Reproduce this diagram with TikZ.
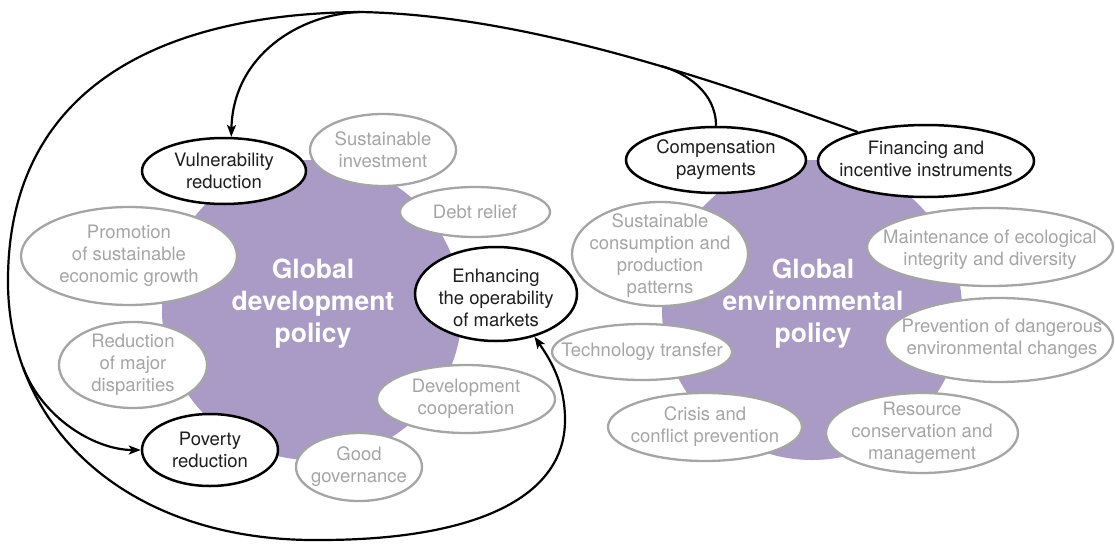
\documentclass[tikz,border=0pt]{standalone}
\usepackage{fontspec}
\setmainfont{TeX Gyre Heros}
\usetikzlibrary{shapes.geometric,arrows.meta}
\definecolor{purp}{RGB}{169,155,198}
\definecolor{ggray}{RGB}{165,165,165}
\definecolor{tblack}{RGB}{30,30,30}
\tikzset{
  gel/.style={ellipse, draw=ggray, line width=2.3pt, fill=white, inner sep=0pt},
  bel/.style={ellipse, draw=black, line width=2.5pt, fill=white, inner sep=0pt},
  gtxt/.style={text=ggray, align=center, inner sep=0pt, font=\fontsize{18.5}{22}\selectfont},
  btxt/.style={text=tblack, align=center, inner sep=0pt, font=\fontsize{18.5}{22}\selectfont},
  ttl/.style={text=white, align=center, inner sep=0pt, font=\fontsize{26.5}{32}\selectfont\bfseries},
  pcirc/.style={circle, fill=purp, minimum size=300pt, inner sep=0pt},
  conn/.style={draw=black, line width=2.2pt},
  arr/.style={-{Stealth[length=12pt,width=9pt,inset=3pt]}},
}
\begin{document}
\begin{tikzpicture}[x=1pt,y=-1pt]
\useasboundingbox (0,0) rectangle (1115,543);
% purple circles
\node[pcirc] (gdc) at (312,310) {};
\node[pcirc] (gec) at (812,310) {};
\node[ttl] (gdt) at (313,304) {Global\\development\\policy};
\node[ttl] (get) at (813,304) {Global\\environmental\\policy};
% development ellipses
\node[bel, minimum width=164pt, minimum height=66pt, label={[btxt]center:{Vulnerability\\reduction}}] (vul) at (224,171) {};
\node[gel, minimum width=146pt, minimum height=72pt, label={[gtxt]center:{Sustainable\\investment}}] (si) at (383,150) {};
\node[gel, minimum width=150pt, minimum height=50pt, label={[gtxt]center:{Debt relief}}] (dr) at (475,212) {};
\node[gel, minimum width=216pt, minimum height=98pt, label={[gtxt]center:{Promotion\\of sustainable\\economic growth}}] (pr) at (129,256) {};
\node[bel, minimum width=162pt, minimum height=94pt, label={[btxt,yshift=-4pt]center:{Enhancing\\the operability\\of markets}}] (enh) at (496,294) {};
\node[gel, minimum width=148pt, minimum height=86pt, label={[gtxt]center:{Reduction\\of major\\disparities}}] (rd) at (133,365) {};
\node[gel, minimum width=178pt, minimum height=68pt, label={[gtxt]center:{Development\\cooperation}}] (dc) at (466,399) {};
\node[bel, minimum width=136pt, minimum height=72pt, label={[btxt]center:{Poverty\\reduction}}] (pov) at (210,450) {};
\node[gel, minimum width=126pt, minimum height=68pt, label={[gtxt]center:{Good\\governance}}] (gg) at (359,467) {};
% environment ellipses
\node[bel, minimum width=180pt, minimum height=66pt, label={[btxt]center:{Compensation\\payments}}] (comp) at (716,160) {};
\node[bel, minimum width=216pt, minimum height=72pt, label={[btxt,yshift=2pt]center:{Financing and\\incentive instruments}}] (fin) at (926,161) {};
\node[gel, minimum width=176pt, minimum height=104pt, label={[gtxt,yshift=-2pt]center:{Sustainable\\consumption and\\production\\patterns}}] (sc) at (660,254) {};
\node[gel, minimum width=246pt, minimum height=78pt, label={[gtxt,yshift=-3pt]center:{Maintenance of ecological\\integrity and diversity}}] (me) at (990,247) {};
\node[gel, minimum width=180pt, minimum height=56pt, label={[gtxt]center:{Technology transfer}}] (tt) at (642,352) {};
\node[gel, minimum width=228pt, minimum height=84pt, label={[gtxt,xshift=3pt,yshift=1pt]center:{Prevention of dangerous\\environmental changes}}] (pd) at (999,340) {};
\node[gel, minimum width=194pt, minimum height=68pt, label={[gtxt]center:{Crisis and\\conflict prevention}}] (cc) at (705,427) {};
\node[gel, minimum width=192pt, minimum height=80pt, label={[gtxt]center:{Resource\\conservation and\\management}}] (rc) at (922,433) {};
% junction points
\coordinate (T) at (360,12);
\coordinate (L) at (8,285);
\coordinate (B) at (320,540);
\coordinate (R) at (565,420);
\coordinate (j1) at (661,66);
\coordinate (j2) at (23,367);
% connectors
\draw[conn,arr] (fin.157) .. controls (700,75) and (520,15) .. (T)
  .. controls (150,14) and (6,95) .. (L)
  .. controls (10,430) and (130,542) .. (B)
  .. controls (470,540) and (565,500) .. (R)
  .. controls (565,385) and (552,362) .. (enh.-48);
\draw[conn,arr] (T) .. controls (300,14) and (233,55) .. (vul.78);
\draw[conn] (comp.north) .. controls (716,92) and (686,73) .. (j1);
\draw[conn,arr] (j2) .. controls (42,418) and (95,450) .. (pov.west);
\end{tikzpicture}
\end{document}
